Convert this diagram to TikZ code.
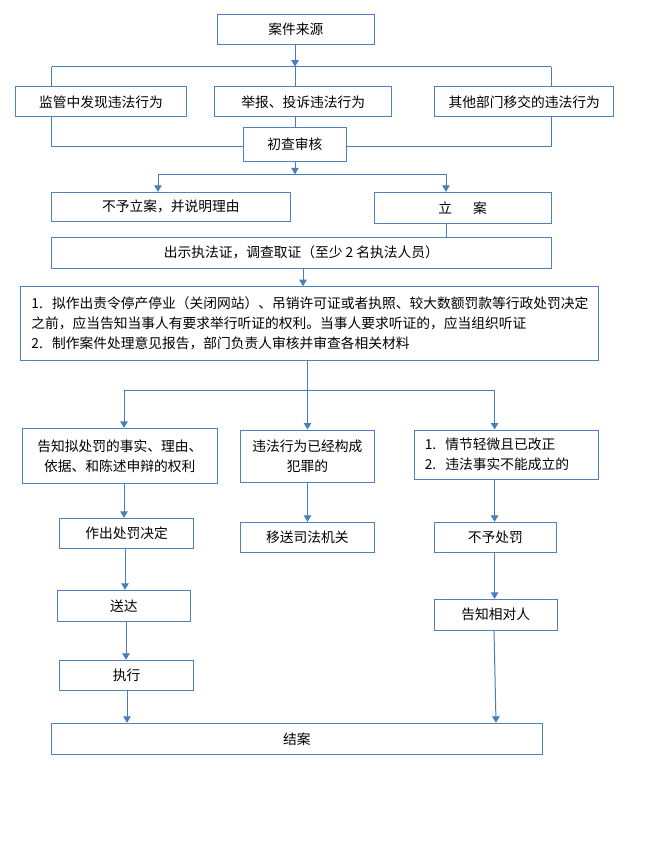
\documentclass[tikz,border=0pt]{standalone}
\usepackage{fontspec}
\setmainfont{Noto Sans CJK SC}
\usetikzlibrary{arrows.meta}
\definecolor{bd}{HTML}{4F81BD}
\definecolor{lnc}{HTML}{4A7EBB}
\newcommand\fsz{\fontsize{13.75pt}{20pt}\selectfont}
\begin{document}
\begin{tikzpicture}[x=1pt,y=-1pt,
  box/.style={draw=bd,line width=1pt,inner sep=0pt,font=\fsz,text=black},
  conn/.style={draw=lnc,line width=1pt},
  arr/.style={conn,-{Triangle[width=7.5pt,length=6.5pt]}}]
\fill[white] (0,0) rectangle (650,866);
\useasboundingbox (0,0) rectangle (650,866);

% nodes
\node[box,minimum width=156.5pt,minimum height=30.7pt] (src) at (295.75,29.65) {案件来源};
\node[box,minimum width=170.2pt,minimum height=30.3pt] (a1) at (100.9,101.85) {监管中发现违法行为};
\node[box,minimum width=177.1pt,minimum height=30.3pt] (a2) at (303.15,101.85) {举报、投诉违法行为};
\node[box,minimum width=179.2pt,minimum height=30.3pt] (a3) at (524.2,101.85) {其他部门移交的违法行为};
\node[box,fill=white,minimum width=102.25pt,minimum height=34pt] (chk) at (294.9,144.3) {初查审核};
\node[box,minimum width=238.3pt,minimum height=29pt] (no) at (170.85,206.8) {不予立案，并说明理由};
\node[box,minimum width=177pt,minimum height=31pt] (li) at (462.5,207.8) {立\hspace{21pt}案};
\node[box,minimum width=499.3pt,minimum height=31pt] (zj) at (301.35,252.8) {出示执法证，调查取证（至少 2 名执法人员）};
\node[box,minimum width=577.2pt,minimum height=73.3pt,text width=556pt,align=left] (big) at (309.4,323.35)
  {1.\ \ 拟作出责令停产停业（关闭网站）、吊销许可证或者执照、较大数额罚款等行政处罚决定\\
   之前，应当告知当事人有要求举行听证的权利。当事人要求听证的，应当组织听证\\
   2.\ \ 制作案件处理意见报告，部门负责人审核并审查各相关材料};
\node[box,minimum width=195.5pt,minimum height=55pt,align=center] (g1) at (119.75,455.8)
  {告知拟处罚的事实、理由、\\依据、和陈述申辩的权利};
\node[box,minimum width=133.2pt,minimum height=52.3pt,align=center] (g2) at (307.4,456.15)
  {违法行为已经构成\\犯罪的};
\node[box,minimum width=183.4pt,minimum height=49pt,text width=163pt,align=left] (g3) at (506.3,454.5)
  {1.\ \ 情节轻微且已改正\\2.\ \ 违法事实不能成立的};
\node[box,minimum width=134.15pt,minimum height=30pt] (d1) at (126.7,533.3) {作出处罚决定};
\node[box,minimum width=133.2pt,minimum height=30pt] (d2) at (307.4,537.3) {移送司法机关};
\node[box,minimum width=121.4pt,minimum height=30pt] (d3) at (495.3,537.3) {不予处罚};
\node[box,minimum width=132.9pt,minimum height=31pt] (s) at (123.95,605.8) {送达};
\node[box,minimum width=134.15pt,minimum height=30pt] (e) at (126.7,675.3) {执行};
\node[box,minimum width=122.4pt,minimum height=31pt] (r) at (495.8,614.8) {告知相对人};
\node[box,minimum width=490.3pt,minimum height=31pt] (end) at (296.85,738.8) {结案};

% junction coordinates
\coordinate (t1) at (295,66.7);
\coordinate (tl) at (51.7,66.7);
\coordinate (tr) at (551,66.7);
\coordinate (b1) at (0,146.7);
\coordinate (t2) at (295,174.3);
\coordinate (t2l) at (158,174.3);
\coordinate (t2r) at (446,174.3);
\coordinate (c3) at (303,0);
\coordinate (t3) at (307.5,390.7);
\coordinate (t3l) at (124,390.7);
\coordinate (t3r) at (494.6,390.7);
\coordinate (lc1) at (125,0);
\coordinate (lc2) at (126,0);
\coordinate (lc3) at (127,0);
\coordinate (rc1) at (494,0);
\coordinate (rc2) at (496,0);

% connectors
\draw[arr] (t1 |- src.south) -- (t1);
\draw[conn] (tl) -- (tr);
\draw[conn] (tl) -- (tl |- a1.north);
\draw[conn] (t1) -- (t1 |- a2.north);
\draw[conn] (tr) -- (tr |- a3.north);
\draw[conn] (tl |- a1.south) |- (chk.west |- b1);
\draw[conn] (tr |- a3.south) |- (chk.east |- b1);
\draw[conn] (t1 |- a2.south) -- (t1 |- chk.north);

\draw[arr] (t2 |- chk.south) -- (t2);
\draw[conn] (t2l) -- (t2r);
\draw[arr] (t2l) -- (t2l |- no.north);
\draw[arr] (t2r) -- (t2r |- li.north);
\draw[conn] (t2r |- li.south) -- (t2r |- zj.north);
\draw[arr] (c3 |- zj.south) -- (c3 |- big.north);

\draw[conn] (t3 |- big.south) -- (t3);
\draw[conn] (t3l) -- (t3r);
\draw[arr] (t3) -- (t3 |- g2.north);
\draw[arr] (t3l) -- (t3l |- g1.north);
\draw[arr] (t3r) -- (t3r |- g3.north);

\draw[arr] (t3l |- g1.south) -- (t3l |- d1.north);
\draw[arr] (t3 |- g2.south) -- (t3 |- d2.north);
\draw[arr] (t3r |- g3.south) -- (t3r |- d3.north);

\draw[arr] (lc1 |- d1.south) -- (lc1 |- s.north);
\draw[arr] (lc2 |- s.south) -- (lc2 |- e.north);
\draw[arr] (lc3 |- e.south) -- (lc3 |- end.north);

\draw[arr] (t3r |- d3.south) -- (t3r |- r.north);
\draw[arr] (rc1 |- r.south) -- (rc2 |- end.north);
\end{tikzpicture}
\end{document}
